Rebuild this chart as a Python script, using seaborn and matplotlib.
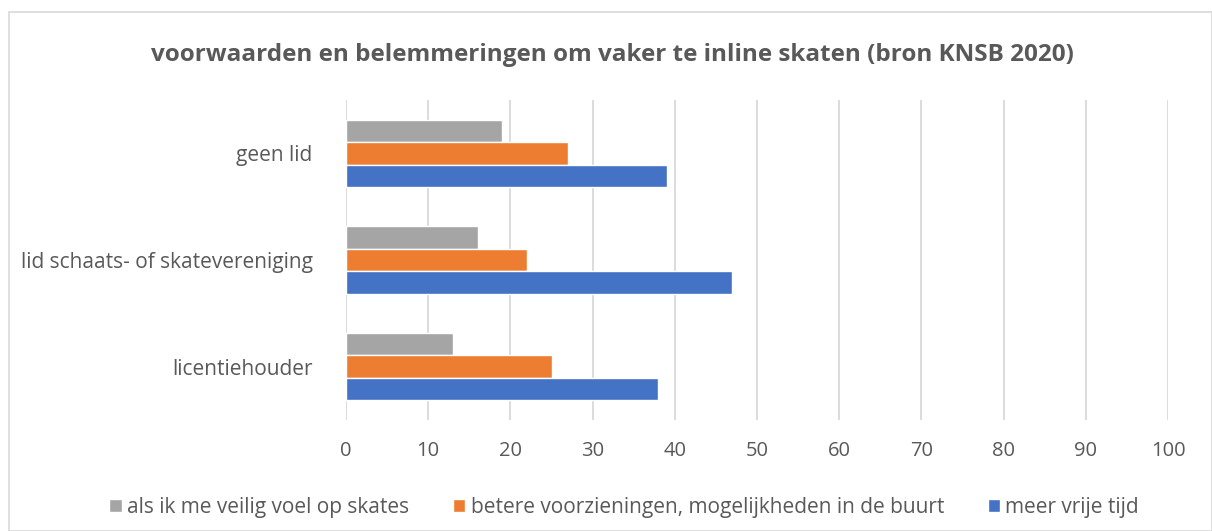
import pandas as pd
import matplotlib.pyplot as plt
import seaborn as sns
from matplotlib.patches import Rectangle

groups = ['geen lid', 'lid schaats- of skatevereniging', 'licentiehouder']
series = ['als ik me veilig voel op skates',
          'betere voorzieningen, mogelijkheden in de buurt',
          'meer vrije tijd']
veilig = [19, 16, 13]
voorzieningen = [27, 22, 25]
vrije_tijd = [39, 47, 38]
colors = ['#a5a5a5', '#ed7d31', '#4472c4']

rows = []
for name, vals in zip(series, [veilig, voorzieningen, vrije_tijd]):
    for g, v in zip(groups, vals):
        rows.append({'groep': g, 'reden': name, 'pct': v})
df = pd.DataFrame(rows)

sns.set_theme(style='white')
plt.rcParams['font.family'] = ['Open Sans', 'DejaVu Sans']
txt = '#595959'

fig = plt.figure(figsize=(12.12, 5.31), dpi=100)
ax = fig.add_axes([346 / 1212, 1 - 420 / 531, (1168 - 346) / 1212, 320 / 531])

sns.barplot(data=df, x='pct', y='groep', hue='reden', order=groups,
            hue_order=series, palette=colors, orient='h', width=0.63,
            gap=0, saturation=1, ax=ax, legend=True, zorder=3)

ax.set_xlim(0, 100)
ax.set_ylim(2.5, -0.5)
ax.set_xticks(range(0, 101, 10))
ax.xaxis.grid(True, color='#d9d9d9', linewidth=1.3, zorder=0)
ax.set_axisbelow(True)
for s in ax.spines.values():
    s.set_visible(False)
ax.set_xlabel('')
ax.set_ylabel('')
ax.tick_params(axis='x', labelsize=14.5, colors=txt, pad=15, length=0)
ax.tick_params(axis='y', labelsize=15, colors=txt, pad=24, length=0)

ax.legend(loc='center', bbox_to_anchor=(620 / 822 - 346 / 822 + 0.005, -87 / 320), ncol=3,
          frameon=False, fontsize=15, handlelength=0.6, handleheight=0.6,
          handletextpad=0.25, columnspacing=2.1, labelcolor=txt)

fig.text(612 / 1212, 1 - 55 / 531, 'voorwaarden en belemmeringen om vaker te inline skaten (bron KNSB 2020)',
         ha='center', va='center', fontsize=17.5, fontweight='bold', color=txt)

fig.patches.append(Rectangle((9 / 1212, 0), 1 - 9 / 1212, 1 - 12 / 531, transform=fig.transFigure,
                             fill=False, edgecolor='#d9d9d9', linewidth=1.2))

fig.savefig('out.png', dpi=100)
